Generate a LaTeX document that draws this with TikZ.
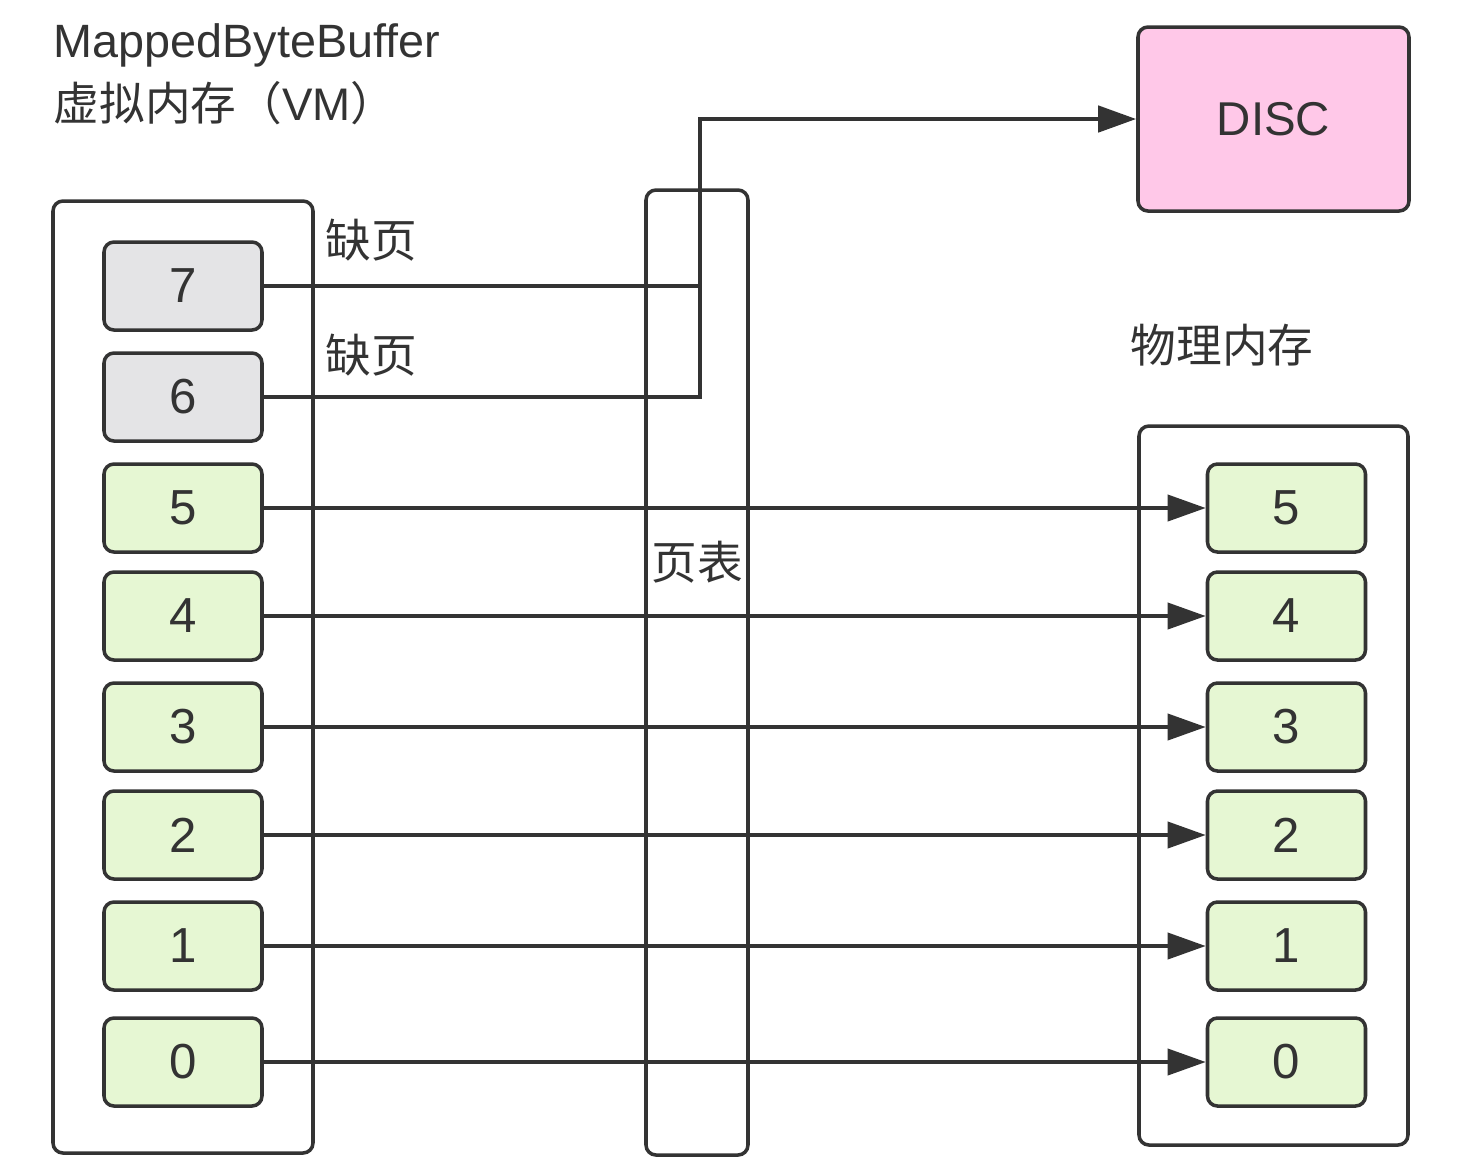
\documentclass[tikz,border=0pt]{standalone}
\usepackage{fontspec}
\setmainfont{Liberation Sans}
\newfontfamily\cjk{Noto Sans CJK SC}
\usepackage{tikz}
\usetikzlibrary{positioning}
\usetikzlibrary{arrows.meta}
\definecolor{edgegray}{HTML}{333333}
\definecolor{missfill}{HTML}{E4E4E6}
\definecolor{pagefill}{HTML}{E6F7D3}
\definecolor{discfill}{HTML}{FFC8E8}
\tikzset{
  frame/.style={draw=edgegray, line width=1pt, rounded corners=0.1cm},
  pagebox/.style={frame, fill=pagefill, minimum width=1.58cm, minimum height=0.88cm,
    font=\fontsize{14}{16}\selectfont, text=edgegray},
  missbox/.style={pagebox, fill=missfill},
  maplink/.style={draw=edgegray, line width=1.1pt, -{Triangle[length=0.38cm, width=0.26cm]}},
  label/.style={inner sep=0pt, text=edgegray, font=\fontsize{13}{15}\selectfont\cjk}
}

\begin{document}
\begin{tikzpicture}

      \useasboundingbox (0,0) rectangle (14.68,-11.62);

      % containers
      \node (vm)    at (1.83, -6.77)  [frame, minimum width=2.60cm, minimum height=9.52cm] {};
      \node (table) at (6.97, -6.725) [frame, minimum width=1.02cm, minimum height=9.65cm] {};
      \node (pm)    at (12.735,-7.855)[frame, minimum width=2.69cm, minimum height=7.19cm] {};
      \node (disc)  at (12.735,-1.19) [frame, fill=discfill, minimum width=2.71cm, minimum height=1.84cm,
        font=\fontsize{13.5}{16}\selectfont, text=edgegray] {DISC};

      % labels
      \node (title1) at (0.53, -0.45) [label, anchor=west, font=\fontsize{13.3}{15}\selectfont] {MappedByteBuffer};
      \node (title2) at (0.53, -1.03) [label, anchor=west] {虚拟内存（{\rmfamily VM}）};
      \node (miss7)  at (3.71, -2.40) [label] {缺页};
      \node (miss6)  at (3.71, -3.55) [label] {缺页};
      \node (tablelabel) at (6.97, -5.62) [label] {页表};
      \node (pmlabel) at (12.22, -3.45) [label] {物理内存};

      % virtual pages
      \node (v7) at (1.83, -2.86) [missbox] {7};
      \node (v6) at (1.83, -3.97) [missbox] {6};
      \foreach \idx/\ypos in {5/-5.08, 4/-6.16, 3/-7.27, 2/-8.35, 1/-9.46, 0/-10.62} {
        \node (v\idx) at (1.83, \ypos) [pagebox] {\idx};
        \node (p\idx) at (12.865, \ypos) [pagebox] {\idx};
        \draw[maplink] (v\idx.east) -- (p\idx.west);
      }

      % page faults go to disc
      \coordinate (knee) at (7.00, -1.19);
      \draw[maplink, line width=1.3pt] (v6.east) -| (knee) -- (disc.west);
      \draw[draw=edgegray, line width=1.1pt] (v7.east) -- (v7.east -| knee);

\end{tikzpicture}
\end{document}
